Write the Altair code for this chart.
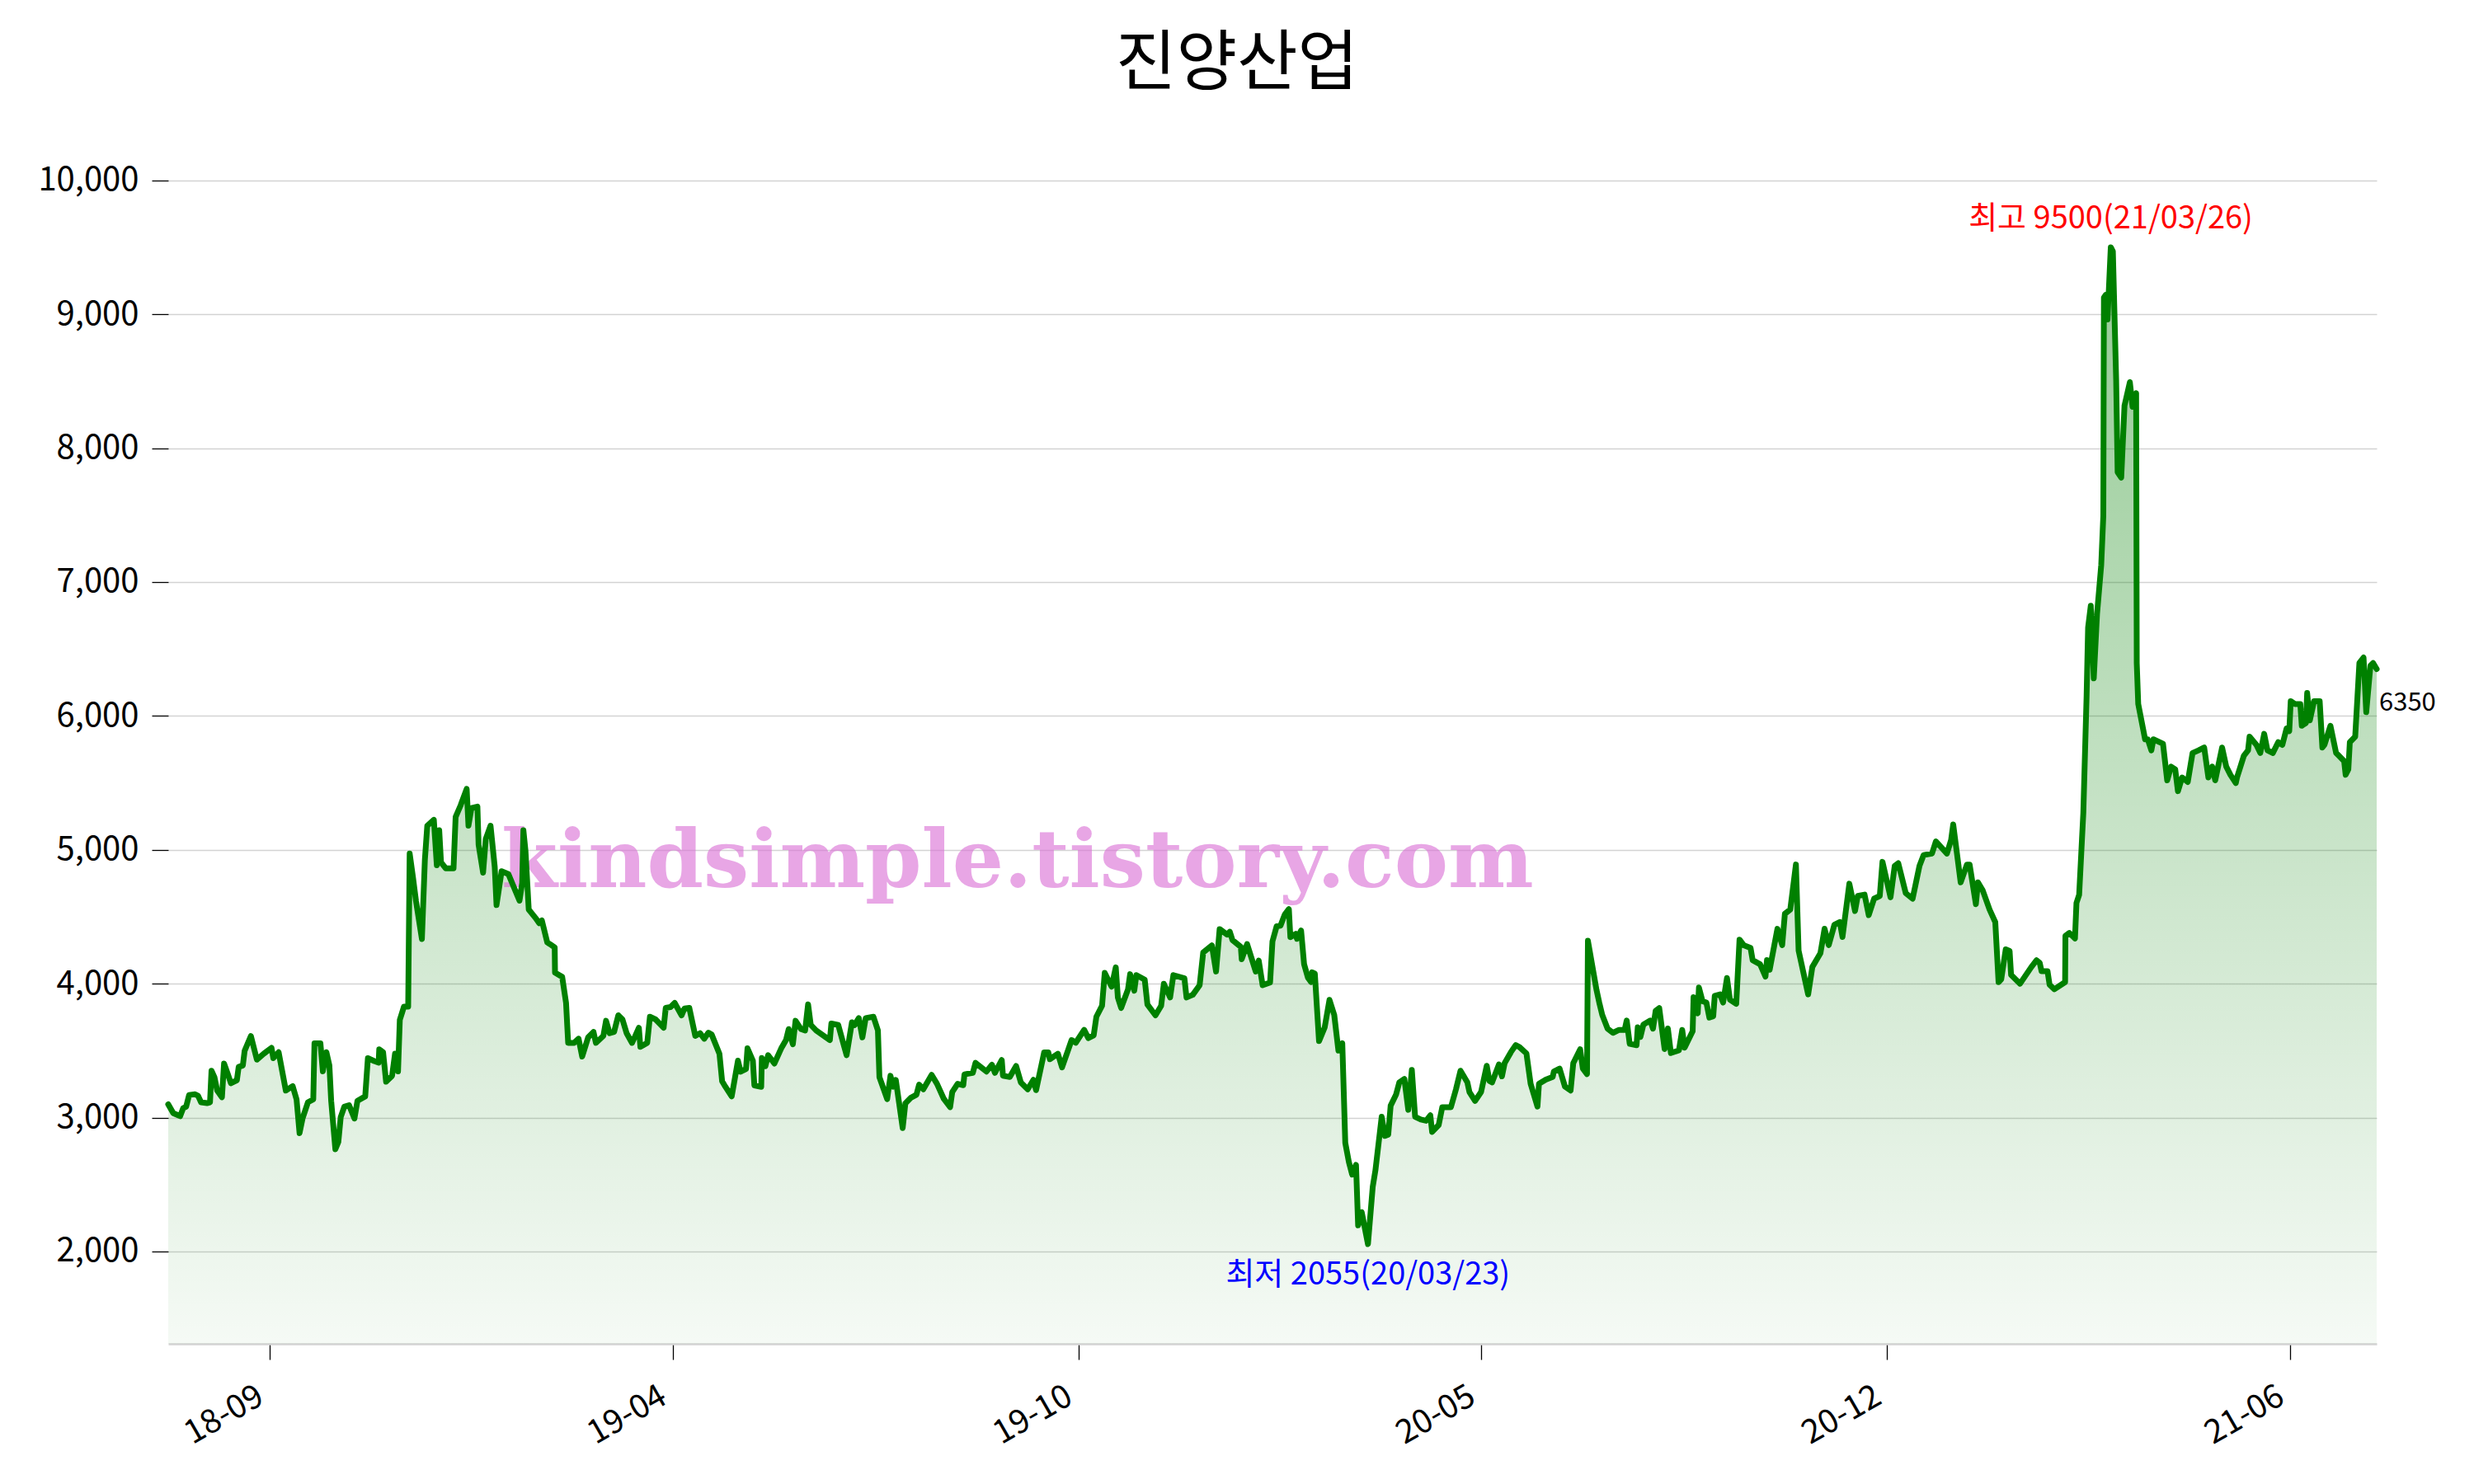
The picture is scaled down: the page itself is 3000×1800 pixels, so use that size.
import altair as alt
import pandas as pd

TITLE = "진양산업"

# trading-day index (x) and closing price
DAYS = [
    0, 1.7, 4, 5, 6, 7, 9, 10, 11, 13, 14, 14.5, 15.5, 16.4, 18, 18.7, 20, 21, 23, 23.6,
    25, 25.6, 27.7, 29.7, 32, 34.6, 35.2, 37, 39.4, 41.7, 43, 44, 45, 46.8, 48.6, 49, 51, 51.8, 53, 54,
    54.6, 56, 57, 57.8, 59, 60.6, 62.4, 63.4, 66, 66.9, 69, 70.5, 70.7, 72, 73, 75, 76, 77, 77.6, 79,
    80.4, 80.9, 82, 83, 85, 86, 86.8, 89, 90, 90.8, 91.4, 93, 95.6, 96.3, 98, 100, 100.6, 101.6, 103.6, 104,
    105.5, 106.4, 108, 109.4, 110, 111.7, 114, 117.7, 118.6, 119, 119.7, 120.8,
    123, 124.3, 125.2, 127, 127.8, 129.5, 129.6, 132, 133.3, 134, 136, 137.5, 138.7, 140.7, 142.5, 143.3,
    145.8, 146.7, 147.9, 149.4, 150.8, 152.2, 153.6, 155.4, 156.5, 157.7, 158.2, 160.5, 161.4, 163.3, 166,
    166.7, 168.3, 169.7, 172, 173, 174.6, 176.6, 178.2, 179.6, 181, 182.1, 184.7, 185.6, 186.7, 188.8,
    190.9, 191.8, 193.6, 194.1, 195.9, 196.4, 198.7, 198.9, 200.1, 201, 203.1, 205.4, 207, 207.9, 209.3,
    210.2, 212, 213.4, 214.4, 215.3, 217.1, 221.7, 222.2, 224.5, 227.3, 229.1, 230, 231.4, 232.6, 233.7,
    236.3, 237.8, 238.3, 240.9, 242, 242.9, 243.8, 246.1, 247,
    248.9, 250.7, 251.6, 253, 255.8, 257.6, 259.9, 262, 262.7, 264.5, 266.4, 266.8, 269.6, 270.5, 274.2,
    276, 277, 279.3, 279.7, 282, 284.1, 285.7, 288, 289.9, 290.8, 293.5, 294.9, 295.4, 298.1, 299.5,
    302.7, 304.1, 306.9, 308.3, 310.1, 311, 312.9, 313.8, 316.1, 317.5, 318.2, 319.3, 321.6, 322.3, 323.7,
    324.4, 327.2, 328.1, 330.8, 332.7, 333.6, 335.7, 336.8, 340.5, 341.2, 343.3, 345.6, 346.8, 349.7, 351.1,
    352.3, 354.8, 355.7, 356.6, 359.4, 359.7, 361.5, 364.4, 365.4, 366.7, 369.2, 370, 371.4, 372.7,
    374.1, 375.5, 376, 377.8, 378.2, 379.6, 380.6, 381.9, 382.9, 383.3, 384.2, 385.6, 387.5, 389.1, 390.7,
    392.1, 393.4, 394.4, 395.6, 396.7, 398, 398.7, 399.9, 402, 403.6, 404.5, 406.6, 407.7, 408.8, 409.6,
    411.4, 412.5, 414.2, 415.5, 416.7, 417.8, 419.7, 421.5, 422.9, 423.5, 425.7, 426.9, 429.8, 431.5, 433,
    435.3, 436, 437.9, 439.9, 441.8, 442.7, 443.6, 445.9, 446.9, 447.8, 449.9, 451.5, 452.8, 455.1, 456.5,
    458.8, 459.3, 461.6, 463.9, 464.3, 466.2, 468, 469.9, 470.8, 473.1, 474, 475.4, 475.7, 478.6, 479.5,
    480.5, 482.3, 484.1, 486, 488, 488.7, 489.7, 492, 492.4, 493.3, 494.3, 496.6, 497.5,
    498.4, 499.6, 501.4, 502.5, 503.5, 506.2, 507.3, 508.1, 510.8, 511.1, 512.5, 512.9, 514.1, 515.4, 516.4,
    517.7, 518.2, 520, 521, 522.3, 523.3, 525.4, 526.5, 527.9, 530.2, 530.9, 533.4, 535.2, 535.7, 536.6,
    539.2, 540.8, 541.7, 543.5, 545.4, 546.3, 549.5, 550.9, 553.6, 555, 556.4, 558.3, 560.1, 561, 563.3,
    565.2, 566.1, 568.4, 569.8, 571.6, 573.5, 574.4, 577.1, 578.5, 579.7, 582.2, 584.5, 586.8, 588.2, 591,
    592.3, 596, 597.4, 598.1, 600.6, 602.7, 603.6, 605.7, 606.4, 608, 610.3,
    612.2, 613.3, 614.2, 615.7, 617, 617.5, 620.5, 624.2, 626, 627.1, 627.7, 629.7, 630.4, 632, 635.6,
    635.7, 637, 638.9, 639.4, 640.3, 641.7, 642.8, 643.3, 644.2, 645.2, 646.3, 647.7, 648.4, 648.6, 649.2,
    649.8, 650.9, 651.6, 652.7, 653.2, 654.4, 655.5, 657.3, 658.2, 659.4, 659.6, 660.1, 662.4, 663.3, 664.5,
    665.2, 668.4, 669.8, 671.1, 672.5, 673.4, 674.8, 676.7, 678.3, 680.3, 682.2, 683.6, 684.9, 685.9, 688.2,
    689.6, 691, 692.8, 693.2, 695.5, 696.9, 697.4, 699.7, 701, 702.3, 703.4, 705.2, 707, 708.4, 709.8,
    710.7, 711.2, 712.6, 714.4, 714.9, 716.3, 716.7, 717.6, 719, 720.9, 721.8, 722.5, 724.5, 726.4, 727.3,
    729.1, 729.6, 730.5, 731, 732.8, 734.2, 735.6, 736.5, 737.9, 738.8, 740,
]
PRICES = [
    3099, 3033, 3011, 3070, 3081, 3169, 3174, 3163, 3114, 3108, 3114, 3350, 3301, 3202, 3152, 3404, 3323, 3257, 3279, 3378,
    3389, 3499, 3609, 3433, 3477, 3521, 3444, 3488, 3202, 3235, 3136, 2884, 2993, 3114, 3136, 3554, 3554, 3345, 3488, 3389,
    3125, 2763, 2818, 3004, 3081, 3092, 2993, 3125, 3158, 3444, 3422, 3411, 3510, 3488, 3268, 3312, 3477, 3345, 3730, 3829,
    3829, 4972, 4796, 4620, 4334, 4928, 5180, 5224, 4884, 5147, 4906, 4862, 4862, 5246, 5334, 5455, 5180, 5312, 5323, 5037,
    4829, 5081, 5180, 4873, 4587, 4840, 4818, 4620, 4752, 5147, 4994, 4554,
    4493, 4452, 4472, 4308, 4297, 4271, 4082, 4051, 3856, 3558, 3558, 3589, 3456, 3599, 3640, 3558,
    3610, 3723, 3630, 3640, 3764, 3733, 3630, 3558, 3610, 3671, 3528, 3558, 3753, 3733, 3671,
    3819, 3825, 3856, 3764, 3815, 3819, 3610, 3630, 3589, 3634, 3620, 3476, 3271, 3230, 3158,
    3425, 3343, 3363, 3517, 3425, 3240, 3230, 3445, 3384, 3466, 3404, 3517, 3579, 3661, 3548,
    3723, 3661, 3651, 3846, 3692, 3651, 3579, 3702, 3692, 3466, 3712, 3692, 3743, 3599, 3743,
    3753, 3651, 3302, 3138, 3312, 3230, 3281, 2922, 3107,
    3149, 3170, 3246, 3211, 3319, 3252, 3139, 3078, 3190, 3252, 3242, 3323, 3334, 3409, 3344,
    3395, 3334, 3430, 3313, 3303, 3385, 3262, 3211, 3282, 3205, 3487, 3487, 3436, 3477, 3375,
    3579, 3559, 3655, 3594, 3614, 3753, 3835, 4081, 3978, 4122, 3897, 3819, 3958, 4071, 3948,
    4064, 4030, 3845, 3764, 3835, 3999, 3897, 4064, 4040, 3897, 3917, 3989, 4234, 4286, 4091,
    4408, 4367, 4388, 4326, 4275, 4183, 4296, 4091, 4173, 3989, 4009, 4316, 4429, 4433,
    4516, 4557, 4348, 4372, 4335, 4397, 4146, 4044, 4013, 4085, 4075, 3571, 3674, 3879, 3767,
    3500, 3555, 2811, 2668, 2575, 2647, 2195, 2294, 2055, 2483, 2606, 3006, 2863, 2873, 3089,
    3171, 3263, 3288, 3058, 3356, 3006, 2986, 2976, 3017, 2893, 2945, 3078, 3078, 3212, 3350,
    3263, 3191, 3124, 3191, 3387, 3273, 3263, 3397, 3308, 3407, 3489, 3541, 3526, 3479, 3253,
    3082, 3253, 3284, 3304, 3345, 3366, 3232, 3202, 3407, 3510, 3366, 3325, 4321, 3951, 3859,
    3767, 3664, 3633, 3654, 3654, 3725, 3551, 3541, 3674, 3602, 3695, 3725, 3664,
    3798, 3818, 3512, 3665, 3482, 3502, 3655, 3522, 3645, 3900, 3778, 3971, 3869, 3859, 3747,
    3757, 3910, 3920, 3859, 4043, 3880, 3849, 4329, 4288, 4267, 4176, 4145, 4053, 4176, 4104,
    4410, 4288, 4522, 4553, 4890, 4247, 3920, 4125, 4227, 4410, 4288, 4441, 4461, 4349, 4747,
    4543, 4655, 4665, 4512, 4635, 4655, 4910, 4645, 4880, 4900, 4676, 4635, 4880, 4961, 4972,
    5063, 4972, 5074, 5190, 4757, 4890, 4890, 4594, 4757, 4696, 4553,
    4460, 4012, 4033, 4257, 4244, 4065, 4000, 4122, 4175, 4155, 4094, 4094, 3992, 3959, 4012,
    4358, 4379, 4338, 4603, 4664, 5275, 6151, 6660, 6823, 6281, 6762, 7128, 7495, 9124, 9144,
    8961, 9500, 9470, 8513, 7820, 7780, 8318, 8493, 8309, 8411, 6395, 6089, 5825, 5825, 5743,
    5825, 5792, 5519, 5621, 5601, 5438, 5540, 5507, 5723, 5743, 5764, 5540, 5621, 5519, 5764,
    5621, 5560, 5499, 5540, 5703, 5743, 5845, 5784, 5723, 5866, 5743, 5723, 5804, 5784, 5906,
    5886, 6110, 6089, 6089, 5927, 5947, 6171, 5967, 6110, 6110, 5764, 5784, 5927, 5723, 5703,
    5662, 5560, 5601, 5804, 5845, 6395, 6436, 6028, 6375, 6395, 6350,
]

TICK_DAYS = [34, 169, 305, 440, 576, 711]
TICK_LABELS = ["18-09", "19-04", "19-10", "20-05", "20-12", "21-06"]
Y_TICKS = [2000, 3000, 4000, 5000, 6000, 7000, 8000, 9000, 10000]
X_DOMAIN = [0, 740]
Y_DOMAIN = [1310, 10245]

HIGH_DAY, HIGH_PRICE, HIGH_LABEL = [650.9], [9500], ["최고 9500(21/03/26)"]
LOW_DAY, LOW_PRICE, LOW_LABEL = [402], [2055], ["최저 2055(20/03/23)"]
LAST_DAY, LAST_PRICE, LAST_LABEL = [740], [6350], ["6350"]
WATERMARK = "kindsimple.tistory.com"
WATERMARK_DAY, WATERMARK_PRICE = 284.6, 4900

FONT = "Noto Sans CJK KR"

df = pd.DataFrame({"day": DAYS, "price": PRICES})

label_expr = " : ".join(
    f"datum.value == {d} ? '{t}'" for d, t in zip(TICK_DAYS, TICK_LABELS)
) + " : ''"

x_enc = alt.X(
    "day:Q",
    scale=alt.Scale(domain=X_DOMAIN, nice=False, zero=False),
    axis=alt.Axis(
        values=TICK_DAYS, labelExpr=label_expr, title=None, grid=False,
        labelAngle=-30, labelAlign="right", labelBaseline="top",
        labelFontSize=40, labelFont=FONT, labelColor="black",
        labelPadding=24, labelOffset=-21,
        tickSize=19, tickColor="black", tickWidth=1.3,
        domainColor="#d3d3d3", domainWidth=2.7, labelOverlap=False,
    ),
)
y_enc = alt.Y(
    "price:Q",
    scale=alt.Scale(domain=Y_DOMAIN, nice=False, zero=False),
    axis=alt.Axis(
        values=Y_TICKS, format=",d", title=None, domain=False,
        labelFontSize=40, labelFont=FONT, labelColor="black", labelPadding=16,
        tickSize=20, tickColor="black", tickWidth=1.3,
        grid=True, gridColor="#d3d3d3", gridWidth=1.7,
    ),
)

base = alt.Chart(df)

area = base.mark_area(
    color=alt.Gradient(
        gradient="linear",
        stops=[
            alt.GradientStop(color="rgba(0,128,0,0.42)", offset=0),
            alt.GradientStop(color="rgba(0,128,0,0.04)", offset=1),
        ],
        x1=1, x2=1, y1=0, y2=1,
    )
).encode(x=x_enc, y=y_enc, y2=alt.datum(Y_DOMAIN[0]))

watermark = alt.Chart(pd.DataFrame({"t": [WATERMARK]})).mark_text(
    font="DejaVu Serif", fontWeight="bold", fontSize=98, color="#da70d6",
    opacity=0.62, align="center", baseline="middle",
).encode(x=alt.datum(WATERMARK_DAY), y=alt.datum(WATERMARK_PRICE), text="t:N")

line = base.mark_line(
    color="#008000", strokeWidth=7, strokeJoin="round", strokeCap="round"
).encode(x=x_enc, y=y_enc)

high = alt.Chart(pd.DataFrame({"day": HIGH_DAY, "price": HIGH_PRICE, "label": HIGH_LABEL})).mark_text(
    font=FONT, fontSize=38, color="#ff0000", align="center", baseline="middle", dy=-34
).encode(x=x_enc, y=y_enc, text="label:N")

low = alt.Chart(pd.DataFrame({"day": LOW_DAY, "price": LOW_PRICE, "label": LOW_LABEL})).mark_text(
    font=FONT, fontSize=38, color="#0000ff", align="center", baseline="middle", dy=38
).encode(x=x_enc, y=y_enc, text="label:N")

last = alt.Chart(pd.DataFrame({"day": LAST_DAY, "price": LAST_PRICE, "label": LAST_LABEL})).mark_text(
    font=FONT, fontSize=31, color="black", align="left", baseline="middle", dx=3, dy=41
).encode(x=x_enc, y=y_enc, text="label:N")

chart = alt.layer(area, watermark, line, high, low, last).properties(
    width=2678,
    height=1451,
    title=alt.TitleParams(
        TITLE, fontSize=80, font=FONT, fontWeight="normal", color="black",
        anchor="middle", frame="group", dx=-43, offset=60,
    ),
    autosize=alt.AutoSizeParams(type="none"),
    padding={"left": 196, "top": 171, "right": 110, "bottom": 162},
).configure(
    background="white",
    view=alt.ViewConfig(strokeWidth=0, stroke=None),
)

chart.save("out.html", embed_options={"renderer": "svg", "actions": False})
